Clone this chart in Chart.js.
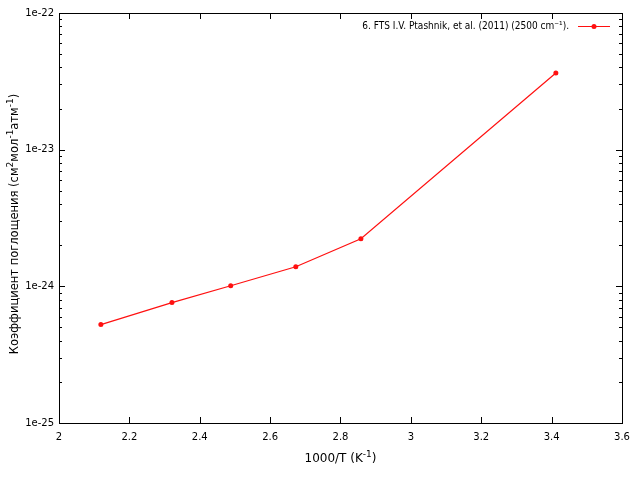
<!DOCTYPE html>
<html>
<head>
<meta charset="utf-8">
<script src="https://cdn.jsdelivr.net/npm/chart.js@4/dist/chart.umd.min.js"></script>
<style>
  html, body { margin: 0; padding: 0; background: #fff; }
  #wrap { width: 640px; height: 480px; }
</style>
</head>
<body>
<div id="wrap"><canvas id="chart" width="640" height="480"></canvas></div>
<script>
// Data
const invTemp = [2.119, 2.321, 2.488, 2.673, 2.858, 3.412];
const absorption = [5.25e-25, 7.6e-25, 1.01e-24, 1.39e-24, 2.23e-24, 3.64e-23];
const seriesLabel = '6. FTS I.V. Ptashnik, et al. (2011) (2500 cm\u207B\u00B9).';
const yDecades = [-25, -24, -23, -22];
// titles split into [text, superscript?] pieces
const xTitle = [['1000/T (K', false], ['-1', true], [')', false]];
const yTitle = [['Коэффициент поглощения (см', false], ['2', true], ['мол', false],
  ['-1', true], ['атм', false], ['-1', true], [')', false]];

const fontFamily = "'DejaVu Sans', sans-serif";

// draws text with superscript pieces, centred at (0,0) of current transform
function drawRich(ctx, parts, size) {
  const small = Math.round(size * 0.75);
  let total = 0;
  parts.forEach(([t, sup]) => {
    ctx.font = (sup ? small : size) + 'px ' + fontFamily;
    total += ctx.measureText(t).width;
  });
  let x = -total / 2;
  ctx.textAlign = 'left';
  ctx.textBaseline = 'middle';
  parts.forEach(([t, sup]) => {
    ctx.font = (sup ? small : size) + 'px ' + fontFamily;
    ctx.fillText(t, x, sup ? -size * 0.4 : 0);
    x += ctx.measureText(t).width;
  });
}

// Gnuplot-like frame: border, inward ticks on all sides, titles and key
const framePlugin = {
  id: 'frame',
  afterDraw(chart) {
    const { ctx, chartArea: a, scales } = chart;
    const xs = scales.x, ys = scales.y;
    ctx.save();
    ctx.strokeStyle = '#000';
    ctx.lineWidth = 1;
    ctx.strokeRect(Math.round(a.left) + 0.5, Math.round(a.top) + 0.5,
      Math.round(a.right - a.left), Math.round(a.bottom - a.top));

    ctx.beginPath();
    // x ticks (major)
    xs.ticks.forEach(t => {
      const px = Math.round(xs.getPixelForValue(t.value)) + 0.5;
      ctx.moveTo(px, a.bottom); ctx.lineTo(px, a.bottom - 6);
      ctx.moveTo(px, a.top); ctx.lineTo(px, a.top + 6);
    });
    // y ticks: major at decades, minor 2..9
    yDecades.forEach((e, i) => {
      const base = Math.pow(10, e);
      const py = Math.round(ys.getPixelForValue(base)) + 0.5;
      ctx.moveTo(a.left, py); ctx.lineTo(a.left + 6, py);
      ctx.moveTo(a.right, py); ctx.lineTo(a.right - 6, py);
      if (i < yDecades.length - 1) {
        for (let m = 2; m <= 9; m++) {
          const pm = Math.round(ys.getPixelForValue(base * m)) + 0.5;
          ctx.moveTo(a.left, pm); ctx.lineTo(a.left + 3, pm);
          ctx.moveTo(a.right, pm); ctx.lineTo(a.right - 3, pm);
        }
      }
    });
    ctx.stroke();

    // axis titles
    ctx.fillStyle = '#000';
    ctx.save();
    ctx.translate((a.left + a.right) / 2, 459);
    drawRich(ctx, xTitle, 12);
    ctx.restore();
    ctx.save();
    ctx.translate(15, 224);
    ctx.rotate(-Math.PI / 2);
    drawRich(ctx, yTitle, 11.5);
    ctx.restore();

    // key (top right)
    const ds = chart.data.datasets[0];
    const ky = 26;
    ctx.font = "10px 'Liberation Sans Narrow', 'DejaVu Sans Condensed', sans-serif";
    ctx.textAlign = 'right';
    ctx.textBaseline = 'middle';
    ctx.fillText(ds.label, 569, ky);
    ctx.strokeStyle = ds.borderColor;
    ctx.beginPath();
    ctx.moveTo(578, ky + 0.5); ctx.lineTo(610, ky + 0.5);
    ctx.stroke();
    ctx.fillStyle = ds.pointBackgroundColor;
    ctx.beginPath();
    ctx.arc(594, ky + 0.5, 2.5, 0, Math.PI * 2);
    ctx.fill();
    ctx.restore();
  }
};

new Chart(document.getElementById('chart'), {
  type: 'line',
  data: {
    datasets: [{
      label: seriesLabel,
      data: invTemp.map((x, i) => ({ x: x, y: absorption[i] })),
      borderColor: '#ff1010',
      backgroundColor: '#ff1010',
      pointBackgroundColor: '#ff1010',
      pointBorderWidth: 0,
      pointRadius: 2.5,
      borderWidth: 1.2,
      tension: 0
    }]
  },
  options: {
    responsive: false,
    animation: false,
    events: [],
    layout: { padding: { top: 13, right: 18, left: 0, bottom: 0 } },
    plugins: { legend: { display: false }, tooltip: { enabled: false } },
    scales: {
      x: {
        type: 'linear',
        min: 2, max: 3.6,
        grid: { display: false, drawTicks: false },
        border: { display: false },
        afterFit(scale) { scale.height = 57; },
        ticks: {
          stepSize: 0.2,
          padding: 8,
          color: '#000',
          font: { family: fontFamily, size: 10 },
          maxRotation: 0,
          callback: v => String(Number(v.toFixed(1)))
        }
      },
      y: {
        type: 'logarithmic',
        min: 1e-25, max: 1e-22,
        grid: { display: false, drawTicks: false },
        border: { display: false },
        afterFit(scale) { scale.width = 59; },
        afterBuildTicks(scale) {
          scale.ticks = yDecades.map(e => ({ value: Math.pow(10, e) }));
        },
        ticks: {
          padding: 5,
          color: '#000',
          font: { family: fontFamily, size: 10 },
          callback: v => '1e' + Math.round(Math.log10(v))
        }
      }
    }
  },
  plugins: [framePlugin]
});
</script>
</body>
</html>
